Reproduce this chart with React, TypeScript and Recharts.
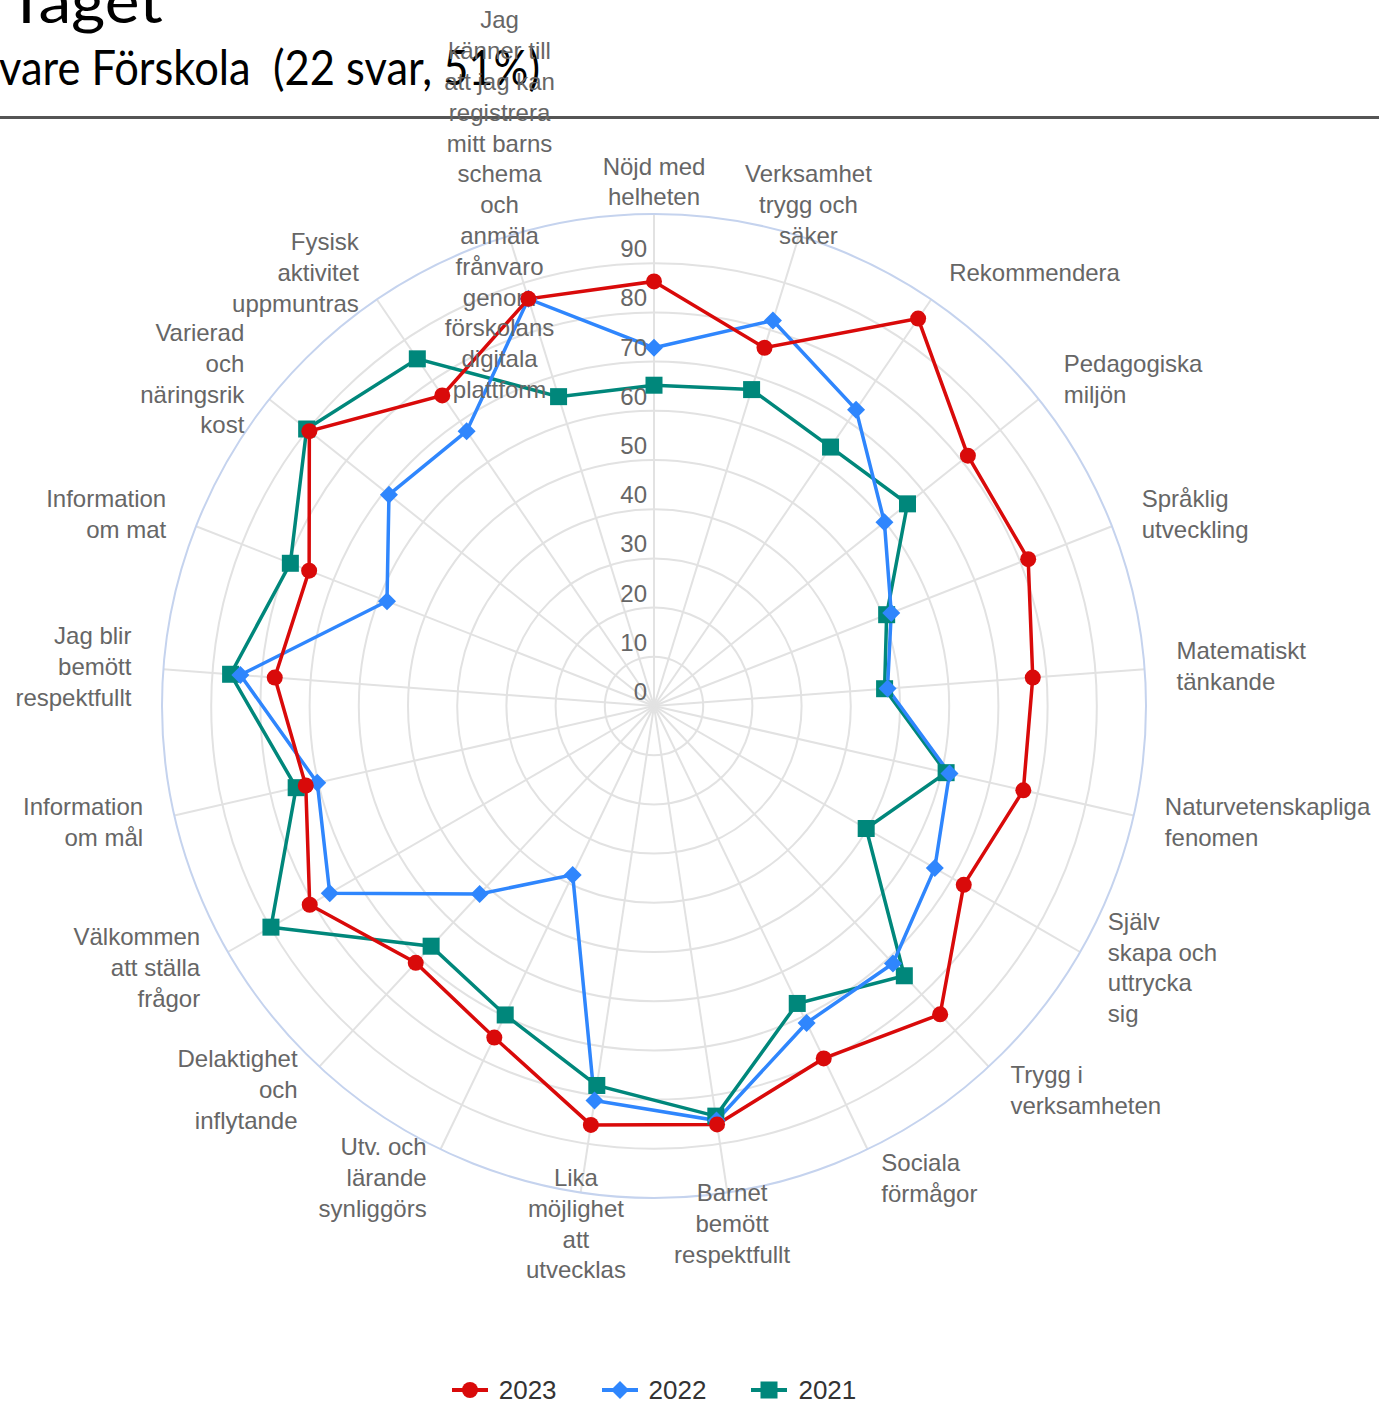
import React from "react";
import {
  RadarChart,
  Radar,
  PolarGrid,
  PolarAngleAxis,
  PolarRadiusAxis,
  Legend,
} from "recharts";

// axis labels, already wrapped the way the original shows them
const categoryLines: string[][] = [
  ["Nöjd med", "helheten"],
  ["Verksamhet", "trygg och", "säker"],
  ["Rekommendera"],
  ["Pedagogiska", "miljön"],
  ["Språklig", "utveckling"],
  ["Matematiskt", "tänkande"],
  ["Naturvetenskapliga", "fenomen"],
  ["Själv", "skapa och", "uttrycka", "sig"],
  ["Trygg i", "verksamheten"],
  ["Sociala", "förmågor"],
  ["Barnet", "bemött", "respektfullt"],
  ["Lika", "möjlighet", "att", "utvecklas"],
  ["Utv. och", "lärande", "synliggörs"],
  ["Delaktighet", "och", "inflytande"],
  ["Välkommen", "att ställa", "frågor"],
  ["Information", "om mål"],
  ["Jag blir", "bemött", "respektfullt"],
  ["Information", "om mat"],
  ["Varierad", "och", "näringsrik", "kost"],
  ["Fysisk", "aktivitet", "uppmuntras"],
  [
    "Jag", "känner till", "att jag kan", "registrera", "mitt barns", "schema",
    "och", "anmäla", "frånvaro", "genom", "förskolans", "digitala", "plattform",
  ],
];
const categories = categoryLines.map((l) => l.join(" "));

const values2023 = [86.3, 76.2, 95.3, 81.6, 81.7, 77.2, 77.0, 72.7, 85.5, 79.5, 86.0, 86.1, 74.8, 71.2, 80.8, 72.6, 77.3, 75.3, 89.6, 76.4, 86.6];
const values2022 = [72.8, 82.0, 72.9, 59.9, 51.8, 47.6, 61.6, 65.9, 71.4, 71.5, 85.2, 81.1, 38.1, 52.1, 76.1, 70.2, 84.3, 58.3, 68.9, 67.6, 86.6];
const values2021 = [65.2, 67.3, 63.7, 65.9, 50.8, 47.0, 60.9, 49.8, 74.8, 67.1, 84.3, 78.0, 69.7, 66.6, 89.9, 74.6, 86.3, 79.4, 90.3, 85.4, 65.8];

const radiusTicks = [0, 10, 20, 30, 40, 50, 60, 70, 80, 90, 100];

const series = [
  { key: "y2023", name: "2023", color: "#d90a0a", shape: "circle" },
  { key: "y2022", name: "2022", color: "#2f86fd", shape: "diamond" },
  { key: "y2021", name: "2021", color: "#00877b", shape: "square" },
];

const data = categories.map((c, i) => ({
  category: c,
  y2023: values2023[i],
  y2022: values2022[i],
  y2021: values2021[i],
}));

const W = 1379;
const H = 1403;
const CX = 654;
const CY = 706;
const OUTER = 492;
const LABEL_R = 524;
const LINE_H = 30.8;
const FONT = "Liberation Sans, Arial, sans-serif";

function Marker({ shape, color, x, y }: { shape: string; color: string; x: number; y: number }) {
  if (shape === "circle") return <circle cx={x} cy={y} r={8} fill={color} />;
  if (shape === "diamond") {
    const d = 9;
    return <polygon points={`${x},${y - d} ${x + d},${y} ${x},${y + d} ${x - d},${y}`} fill={color} />;
  }
  return <rect x={x - 8.5} y={y - 8.5} width={17} height={17} fill={color} />;
}

const AngleTick = (props: any) => {
  const { payload } = props;
  const idx = categories.indexOf(payload.value);
  const lines = categoryLines[idx] || [String(payload.value)];
  const coord =
    typeof payload.coordinate === "number" ? payload.coordinate : 90 - (idx * 360) / categories.length;
  const clockwise = (((90 - coord) % 360) + 360) % 360;
  const rad = (coord * Math.PI) / 180;
  const x = CX + LABEL_R * Math.cos(rad);
  const y = CY - LABEL_R * Math.sin(rad);
  let anchor = "middle";
  if (clockwise > 20 && clockwise < 160) anchor = "start";
  else if (clockwise > 200 && clockwise < 340) anchor = "end";
  const top = y - ((lines.length - 1) / 2) * LINE_H;
  return (
    <text textAnchor={anchor} fontSize={24} fill="#666666" fontFamily={FONT}>
      {lines.map((l, i) => (
        <tspan key={i} x={x} y={top + i * LINE_H + 8}>
          {l}
        </tspan>
      ))}
    </text>
  );
};

const RadiusTick = (props: any) => {
  const { x, y, payload } = props;
  if (payload.value >= 100) return <g />;
  return (
    <text x={x - 7} y={y - 6} textAnchor="end" fontSize={24} fill="#666666" fontFamily={FONT}>
      {payload.value}
    </text>
  );
};

const LegendContent = () => (
  <div style={{ display: "flex", justifyContent: "center", gap: 45, fontFamily: FONT }}>
    {series.map((s) => (
      <div key={s.key} style={{ display: "flex", alignItems: "center", height: 36 }}>
        <svg width={36} height={20}>
          <line x1={0} x2={36} y1={10} y2={10} stroke={s.color} strokeWidth={4} />
          <Marker shape={s.shape} color={s.color} x={18} y={10} />
        </svg>
        <span style={{ marginLeft: 11, fontSize: 26, color: "#333333" }}>{s.name}</span>
      </div>
    ))}
  </div>
);

export default function App() {
  return (
    <div style={{ position: "absolute", left: 0, top: 0, width: W, height: H, background: "#fff" }}>
      <svg width={W} height={130} style={{ position: "absolute", left: 0, top: 0 }}>
        <text x={7} y={23} fontSize={60} fontFamily="Lato, sans-serif" textLength={156} lengthAdjust="spacingAndGlyphs">
          Tåget
        </text>
        <text
          x={-1}
          y={85}
          fontSize={48}
          fontFamily="Lato, sans-serif"
          textLength={541}
          lengthAdjust="spacingAndGlyphs"
          style={{ whiteSpace: "pre" }}
        >
          {"vare Förskola  (22 svar, 51%)"}
        </text>
        <line x1={0} x2={W} y1={117.5} y2={117.5} stroke="#555555" strokeWidth={3} />
      </svg>
      <div style={{ position: "absolute", left: 0, top: 0 }}>
        <RadarChart
          width={W}
          height={H}
          data={data}
          cx={CX}
          cy={CY}
          outerRadius={OUTER}
          margin={{ top: 0, right: 0, bottom: 0, left: 0 }}
        >
          <PolarGrid
            gridType="circle"
            polarRadius={radiusTicks.filter((t) => t > 0 && t < 100).map((t) => (t / 100) * OUTER)}
            stroke="#e2e2e2"
            strokeWidth={2}
          />
          <PolarGrid gridType="circle" radialLines={false} polarRadius={[OUTER]} stroke="#c5d3ee" strokeWidth={2} />
          <PolarAngleAxis dataKey="category" tick={AngleTick} axisLine={false} tickLine={false} />
          <PolarRadiusAxis
            angle={90}
            domain={[0, 100]}
            ticks={radiusTicks as any}
            tickCount={11}
            tick={RadiusTick}
            axisLine={false}
            tickLine={false}
          />
          {[...series].reverse().map((s) => (
            <Radar
              key={s.key}
              name={s.name}
              dataKey={s.key}
              stroke={s.color}
              strokeWidth={3.5}
              fill="none"
              fillOpacity={0}
              isAnimationActive={false}
              dot={(p: any) => <Marker key={`${s.key}-${p.index}`} shape={s.shape} color={s.color} x={p.cx} y={p.cy} />}
            />
          ))}
          <Legend content={<LegendContent />} wrapperStyle={{ left: 0, top: 1372, width: 1308 }} />
        </RadarChart>
      </div>
    </div>
  );
}
